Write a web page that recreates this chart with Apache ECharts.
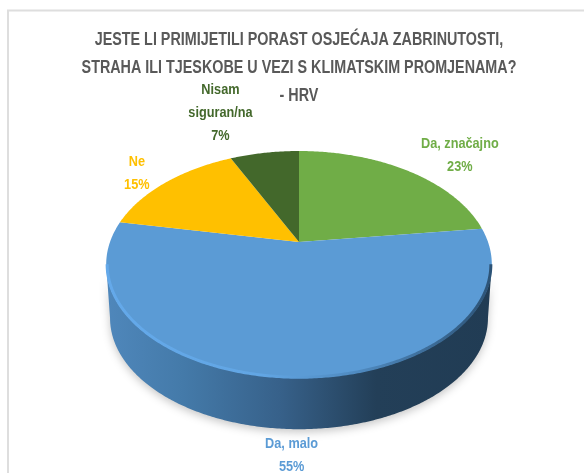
<!DOCTYPE html>
<html><head><meta charset="utf-8">
<style>html,body{margin:0;padding:0;background:#fff}#c{width:584px;height:473px}</style>
<script src="https://cdn.jsdelivr.net/npm/echarts@6/dist/echarts.min.js"></script>
</head><body><div id="c"></div>
<script>
const categories = ['Da, značajno', 'Da, malo', 'Ne', 'Nisam\nsiguran/na'];
const values = [23, 55, 15, 7];
const sliceColors = ['#70ad47', '#5b9bd5', '#ffc000', '#43682b'];
const labelColors = ['#70ad47', '#5b9bd5', '#ffc000', '#43682b'];
const titleLines = ['JESTE LI PRIMIJETILI PORAST OSJEĆAJA ZABRINUTOSTI,', 'STRAHA ILI TJESKOBE U VEZI S KLIMATSKIM PROMJENAMA?', '- HRV'];

// perspective view of the pie's disc
const view = { cx: 299, cy: 242, sx: 189, sy: 109, persp: 0.198, depth: 54, shrink: 0.98 };
// label anchors, as nudges from the slice's rim midpoint
const labelNudge = [[52, -16], [0, 77], [-29, -9], [-44, -40]];
const total = values.reduce((a, b) => a + b, 0);

function project(angle, k, dy) {
  const u = Math.sin(angle), v = -Math.cos(angle);
  const d = 1 - view.persp * v;
  return [view.cx + k * view.sx * u / d, view.cy + (dy || 0) + k * view.sy * v / d];
}
function arc(a0, a1, k, dy) {
  const n = Math.max(2, Math.ceil(Math.abs(a1 - a0) / 0.01));
  const pts = [];
  for (let i = 0; i <= n; i++) pts.push(project(a0 + (a1 - a0) * i / n, k, dy));
  return pts;
}
function startAngle(i) {
  let s = 0;
  for (let j = 0; j < i; j++) s += values[j];
  return s / total * Math.PI * 2;
}
// the rim turns away from the viewer where v equals persp
const frontA = Math.PI - Math.acos(view.persp);
const frontB = Math.PI + Math.acos(view.persp);

function renderWall(params, api) {
  const i = params.dataIndex;
  const a0 = Math.max(startAngle(i), frontA);
  const a1 = Math.min(startAngle(i) + api.value(1) / total * Math.PI * 2, frontB);
  if (a1 <= a0) return { type: 'group', children: [] };
  const top = arc(a0, a1, 1, 0);
  const bottom = arc(a1, a0, view.shrink, view.depth);
  const G = echarts.graphic.LinearGradient;
  return {
    type: 'group',
    children: [{
      type: 'polygon',
      shape: { points: top.concat(bottom) },
      style: {
        fill: new G(0, 0, 1, 0, [
          { offset: 0, color: '#4f87bb' },
          { offset: 0.2, color: '#447aa9' },
          { offset: 0.45, color: '#37618a' },
          { offset: 0.7, color: '#233f58' },
          { offset: 1, color: '#213c54' }
        ]),
        shadowBlur: 9, shadowColor: 'rgba(0,0,0,0.22)', shadowOffsetY: 3
      }
    }]
  };
}
function renderSlice(params, api) {
  const i = params.dataIndex;
  const a0 = startAngle(i);
  const a1 = a0 + api.value(1) / total * Math.PI * 2;
  const pts = [[view.cx, view.cy]].concat(arc(a0, a1, 1, 0));
  const children = [{
    type: 'polygon', shape: { points: pts },
    style: { fill: sliceColors[i] }
  }];
  const ra = Math.max(a0, frontA), rb = Math.min(a1, frontB);
  if (rb > ra) {
    const G = echarts.graphic.LinearGradient;
    children.push({
      type: 'polyline', shape: { points: arc(ra, rb, 0.995, 0) },
      style: {
        fill: 'none', lineWidth: 3,
        stroke: new G(0, 0, 1, 0, [
          { offset: 0, color: '#64a9ea' },
          { offset: 0.4, color: '#62a6e4' },
          { offset: 0.65, color: '#4f8ac0' },
          { offset: 1, color: '#2c5275' }
        ])
      }
    });
  }
  const mid = project((a0 + a1) / 2, 1, 0);
  children.push({
    type: 'text',
    x: mid[0] + labelNudge[i][0], y: mid[1] + labelNudge[i][1], scaleX: 0.82,
    style: {
      x: 0, y: 0,
      text: categories[i] + '\n' + api.value(1) + '%',
      fill: labelColors[i], align: 'center', verticalAlign: 'middle',
      font: 'bold 15.5px "Liberation Sans"', lineHeight: 23
    }
  });
  return { type: 'group', children };
}

const seriesData = categories.map((c, i) => [c, values[i]]);
const chart = echarts.init(document.getElementById('c'), null, { renderer: 'canvas' });
chart.setOption({
  animation: false,
  backgroundColor: '#fff',
  graphic: [{
    type: 'polyline', silent: true, z: 0,
    shape: { points: [[8, 480], [8, 10.5], [590, 10.5]] },
    style: { fill: 'none', stroke: '#dedede', lineWidth: 2 }
  }, {
    type: 'text', silent: true, z: 5, x: 299, y: 68, scaleX: 0.755,
    style: {
      x: 0, y: 0, text: titleLines.join('\n'), fill: '#595959',
      align: 'center', verticalAlign: 'middle', lineHeight: 28,
      font: 'bold 19px "Liberation Sans"'
    }
  }],
  series: [
    { type: 'custom', coordinateSystem: 'none', silent: true, z: 2, encode: { value: 1 }, data: seriesData, renderItem: renderWall },
    { type: 'custom', coordinateSystem: 'none', silent: true, z: 3, encode: { value: 1 }, data: seriesData, renderItem: renderSlice }
  ]
});
</script></body></html>
